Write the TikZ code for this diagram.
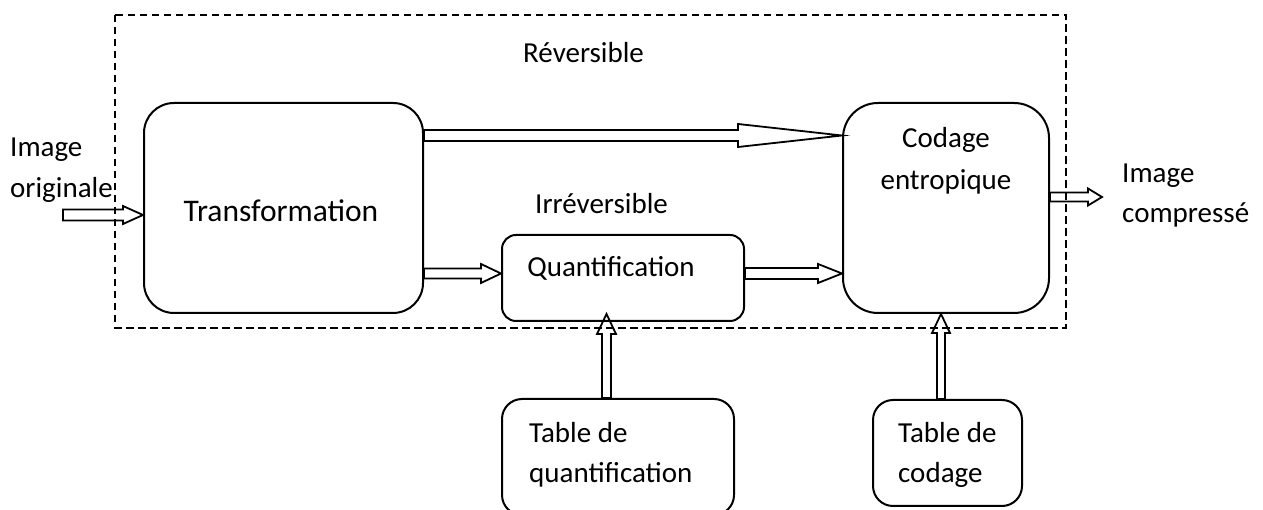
\documentclass[tikz,border=0pt]{standalone}
\usepackage{fontspec}
\setmainfont{Carlito}
\usetikzlibrary{calc}

% hollow block arrow pointing right: start, tip, shaft half-width, head half-width, head length
\newcommand{\harr}[5]{%
  \draw[blk] ($(#1)+(0,#3)$) -- ($(#2)+(-#5,#3)$) -- ($(#2)+(-#5,#4)$) -- (#2)
    -- ($(#2)+(-#5,-#4)$) -- ($(#2)+(-#5,-#3)$) -- ($(#1)+(0,-#3)$) -- cycle;}
% hollow block arrow pointing up
\newcommand{\varr}[5]{%
  \draw[blk] ($(#1)+(#3,0)$) -- ($(#2)+(#3,-#5)$) -- ($(#2)+(#4,-#5)$) -- (#2)
    -- ($(#2)+(-#4,-#5)$) -- ($(#2)+(-#3,-#5)$) -- ($(#1)+(-#3,0)$) -- cycle;}

\begin{document}
\begin{tikzpicture}[x=1pt,y=1pt,
  box/.style={draw, line width=2pt, inner sep=0pt},
  blk/.style={draw, line width=1.8pt, line join=miter},
  txt/.style={inner sep=0pt, font=\fontsize{29}{35}\selectfont},
  bigtxt/.style={inner sep=0pt, font=\fontsize{31.5}{38}\selectfont}]
\useasboundingbox (0,0) rectangle (1263,510);

% dashed frame
\draw[line width=2pt, dash pattern=on 7.5pt off 4.5pt] (115,495) rectangle (1066,182);

% blocks
\node[box, rounded corners=30pt, minimum width=279pt, minimum height=210pt] (trans) at (283.5,302) {};
\node[box, rounded corners=35pt, minimum width=206pt, minimum height=210pt] (cod) at (946,302) {};
\node[box, rounded corners=14pt, minimum width=242pt, minimum height=86pt] (quant) at (623,232) {};
\node[box, rounded corners=20pt, minimum width=232pt, minimum height=116pt] (tabq) at (618,53) {};
\node[box, rounded corners=20pt, minimum width=149pt, minimum height=106pt] (tabc) at (947.5,57) {};

% texts
\node[bigtxt, anchor=base] (ttrans) at (281,288) {Transformation};
\node[txt, anchor=base] (tcod1) at (946,362) {Codage};
\node[txt, anchor=base] (tcod2) at (946,320) {entropique};
\node[txt, anchor=base] (tquant) at (611,233) {Quantification};
\node[txt, anchor=base west] (ttq1) at (529,67) {Table de};
\node[txt, anchor=base west] (ttq2) at (529,27) {quantification};
\node[txt, anchor=base west] (ttc1) at (898,67) {Table de};
\node[txt, anchor=base west] (ttc2) at (898,27) {codage};
\node[txt, anchor=base west] (trev) at (523,447) {Réversible};
\node[txt, anchor=base west] (tirr) at (535,296) {Irréversible};
\node[txt, anchor=base west] (tin1) at (10,353) {Image};
\node[txt, anchor=base west] (tin2) at (10,312) {originale};
\node[txt, anchor=base west] (tout1) at (1122,327) {Image};
\node[txt, anchor=base west] (tout2) at (1122,287) {compressé};

% arrow end points
\coordinate (s1) at (63,295);
\coordinate (e1) at (trans.west |- s1);
\coordinate (s2) at ([yshift=72.5pt]trans.east);
\coordinate (e2) at (cod.west |- s2);
\coordinate (s3) at ([yshift=-65.5pt]trans.east);
\coordinate (e3) at (quant.west |- s3);
\coordinate (s4) at (quant.east |- s3);
\coordinate (e4) at (cod.west |- s3);
\coordinate (s5) at ([yshift=11pt]cod.east);
\coordinate (e5) at (1102,313);
\coordinate (e6) at ([xshift=-16.5pt, yshift=8pt]quant.south);
\coordinate (s6) at (e6 |- tabq.north);
\coordinate (e7) at ([xshift=-5pt]cod.south);
\coordinate (s7) at (e7 |- tabc.north);

% connectors
\harr{s1}{e1}{5.5}{9}{20}
\harr{s2}{e2}{5.5}{11.5}{104}
\harr{s3}{e3}{5}{9.5}{20}
\harr{s4}{e4}{5.5}{9.5}{24}
\harr{s5}{e5}{4.5}{8.5}{14}
\varr{s6}{e6}{4.5}{9.5}{20}
\varr{s7}{e7}{4}{9}{19}
\end{tikzpicture}
\end{document}
